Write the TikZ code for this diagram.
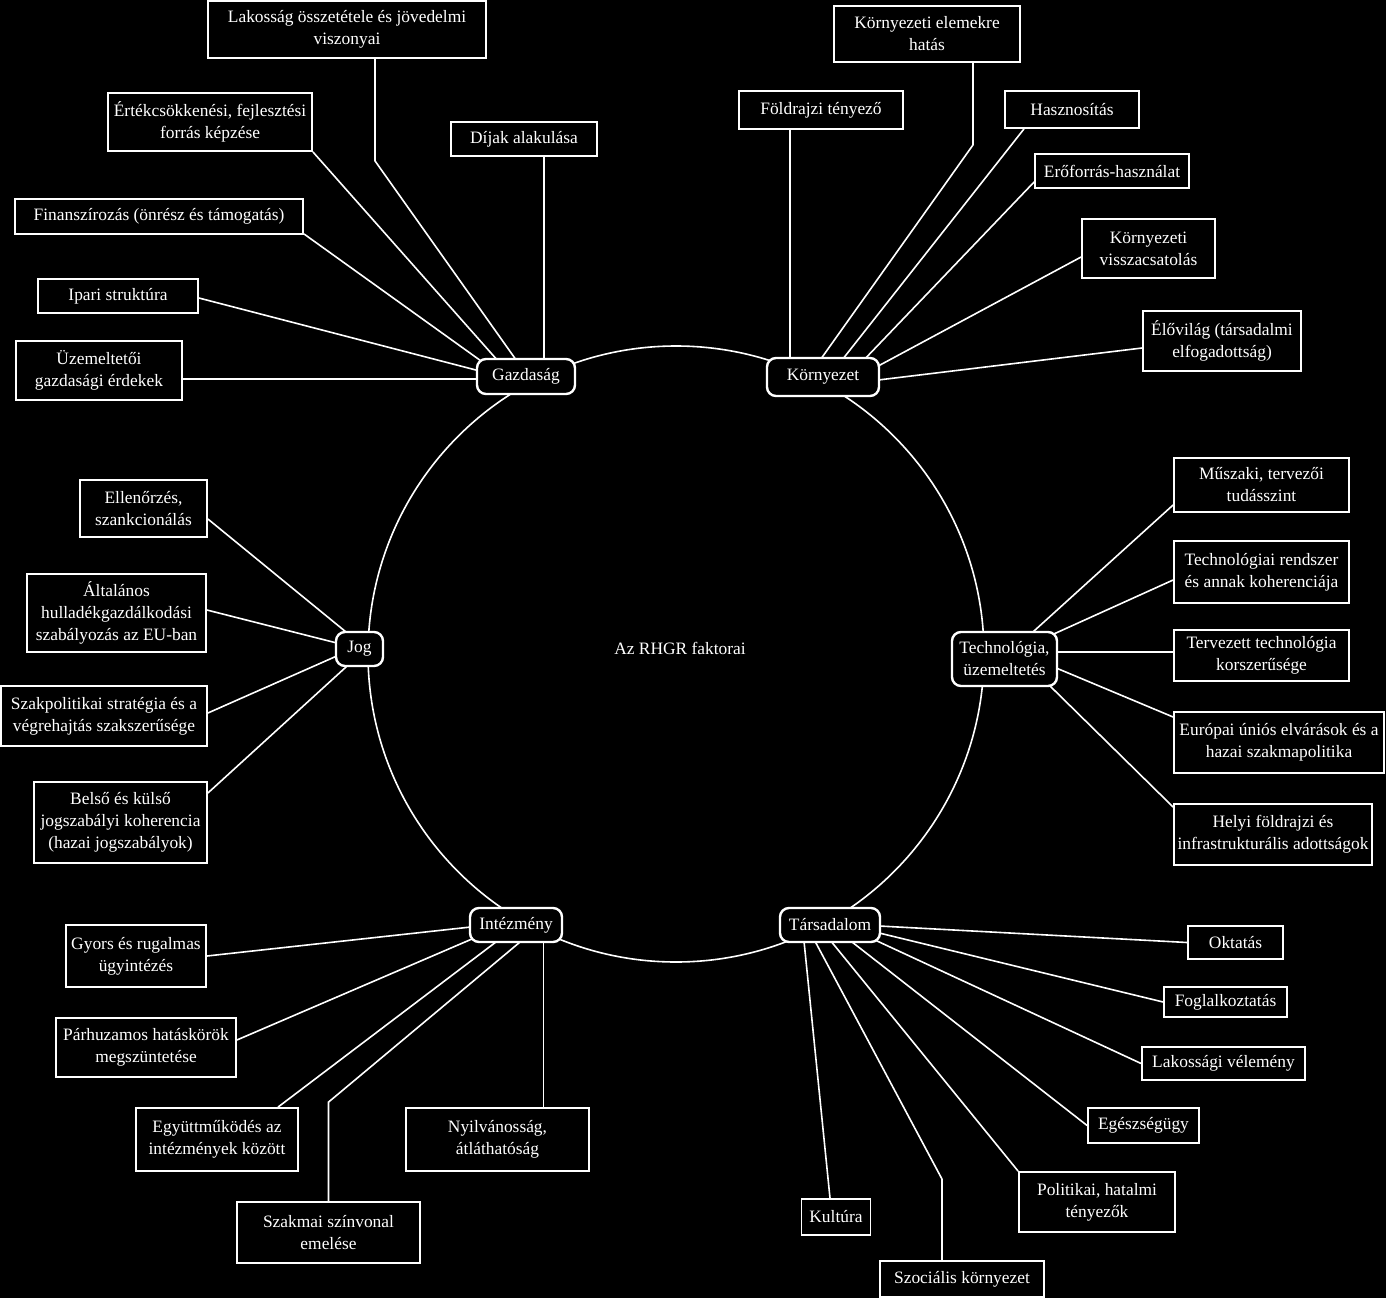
\documentclass[tikz,border=0pt]{standalone}
\usepackage{fontspec}
\setmainfont{Liberation Serif}
\pgfdeclarelayer{bg}
\pgfdeclarelayer{lines}
\pgfsetlayers{bg,lines,main}
\tikzset{
  leaf/.style={draw=white, line width=1.8pt, fill=black, text=white, align=center, inner sep=0pt, font=\fontsize{17.4}{22}\selectfont},
  hub/.style={leaf, rounded corners=9pt, line width=2.4pt},
  conn/.style={draw=white, line width=1.6pt},
}
\begin{document}
\begin{tikzpicture}[x=1pt,y=-1pt]
\begin{pgfonlayer}{bg}
\fill[black] (0,0) rectangle (1386,1298);
\end{pgfonlayer}
\useasboundingbox (0,0) rectangle (1386,1298);

% hubs
\node[hub, minimum width=98pt, minimum height=35pt] (gaz) at (526,376.5) {Gazdaság};
\node[hub, minimum width=112pt, minimum height=38pt] (kor) at (823,377) {Környezet};
\node[hub, minimum width=47pt, minimum height=34pt] (jog) at (359.5,649) {Jog};
\node[hub, minimum width=105pt, minimum height=54pt] (tech) at (1004.5,659) {Technológia,\\üzemeltetés};
\node[hub, minimum width=92pt, minimum height=34pt] (int) at (516,925) {Intézmény};
\node[hub, minimum width=100pt, minimum height=34pt] (tar) at (830,925) {Társadalom};
\node[text=white, font=\fontsize{17.4}{22}\selectfont] (ctr) at (680,648) {Az RHGR faktorai};

% Gazdaság leaves
\node[leaf, minimum width=278pt, minimum height=57pt] (lak) at (347,29.5) {Lakosság összetétele és jövedelmi\\viszonyai};
\node[leaf, minimum width=204pt, minimum height=58pt] (ert) at (210,122) {Értékcsökkenési, fejlesztési\\forrás képzése};
\node[leaf, minimum width=146pt, minimum height=34pt] (dij) at (524,139) {Díjak alakulása};
\node[leaf, minimum width=288pt, minimum height=35pt] (fin) at (159,216.5) {Finanszírozás (önrész és támogatás)};
\node[leaf, minimum width=160pt, minimum height=34pt] (ipa) at (118,296) {Ipari struktúra};
\node[leaf, minimum width=166pt, minimum height=59pt] (uze) at (99,370.5) {Üzemeltetői\\gazdasági érdekek};

% Környezet leaves
\node[leaf, minimum width=186pt, minimum height=56pt] (kee) at (927,34) {Környezeti elemekre\\hatás};
\node[leaf, minimum width=164pt, minimum height=38pt] (fol) at (821,110) {Földrajzi tényező};
\node[leaf, minimum width=134pt, minimum height=37pt] (has) at (1072,109.5) {Hasznosítás};
\node[leaf, minimum width=154pt, minimum height=34pt] (ero) at (1112,171) {Erőforrás-használat};
\node[leaf, minimum width=133pt, minimum height=59pt] (kvi) at (1148.5,248.5) {Környezeti\\visszacsatolás};
\node[leaf, minimum width=158pt, minimum height=60pt] (elo) at (1222,341) {Élővilág (társadalmi\\elfogadottság)};

% Jog leaves
\node[leaf, minimum width=127pt, minimum height=57pt] (ell) at (143.5,508.5) {Ellenőrzés,\\szankcionálás};
\node[leaf, minimum width=179pt, minimum height=78pt] (alt) at (116.5,613) {Általános\\hulladékgazdálkodási\\szabályozás az EU-ban};
\node[leaf, minimum width=206pt, minimum height=60pt] (szp) at (104,716) {Szakpolitikai stratégia és a\\végrehajtás szakszerűsége};
\node[leaf, minimum width=173pt, minimum height=81pt] (bel) at (120.5,822.5) {Belső és külső\\jogszabályi koherencia\\(hazai jogszabályok)};

% Technológia leaves
\node[leaf, minimum width=175pt, minimum height=54pt] (mus) at (1261.5,485) {Műszaki, tervezői\\tudásszint};
\node[leaf, minimum width=175pt, minimum height=62pt] (trs) at (1261.5,572) {Technológiai rendszer\\és annak koherenciája};
\node[leaf, minimum width=175pt, minimum height=51pt] (ter) at (1261.5,655.5) {Tervezett technológia\\korszerűsége};
\node[leaf, minimum width=210pt, minimum height=61pt] (eur) at (1279,742.5) {Európai úniós elvárások és a\\hazai szakmapolitika};
\node[leaf, minimum width=198pt, minimum height=61pt] (hel) at (1273,834.5) {Helyi földrajzi és\\infrastrukturális adottságok};

% Intézmény leaves
\node[leaf, minimum width=140pt, minimum height=62pt] (gyo) at (136,956) {Gyors és rugalmas\\ügyintézés};
\node[leaf, minimum width=180pt, minimum height=59pt] (par) at (146,1047.5) {Párhuzamos hatáskörök\\megszüntetése};
\node[leaf, minimum width=162pt, minimum height=63pt] (egy) at (217,1139.5) {Együttműködés az\\intézmények között};
\node[leaf, minimum width=183pt, minimum height=63pt] (nyi) at (497.5,1139.5) {Nyilvánosság,\\átláthatóság};
\node[leaf, minimum width=183pt, minimum height=61pt] (szm) at (328.5,1232.5) {Szakmai színvonal\\emelése};

% Társadalom leaves
\node[leaf, minimum width=95pt, minimum height=33pt] (okt) at (1235.5,942.5) {Oktatás};
\node[leaf, minimum width=123pt, minimum height=30pt] (fog) at (1225.5,1002) {Foglalkoztatás};
\node[leaf, minimum width=163pt, minimum height=33pt] (lkv) at (1223.5,1063.5) {Lakossági vélemény};
\node[leaf, minimum width=111pt, minimum height=35pt] (ege) at (1143.5,1125.5) {Egészségügy};
\node[leaf, minimum width=156pt, minimum height=60pt] (pol) at (1097,1202) {Politikai, hatalmi\\tényezők};
\node[leaf, minimum width=69pt, minimum height=36pt] (kul) at (836,1217) {Kultúra};
\node[leaf, minimum width=164pt, minimum height=36pt] (szo) at (962,1279) {Szociális környezet};

\begin{pgfonlayer}{lines}
\draw[conn] (676,654) circle[radius=308pt];
% Gazdaság
\draw[conn] ([xshift=28pt]lak.south) -- ++(0,102) -- ([xshift=-10pt,yshift=-2pt]gaz.north);
\draw[conn] (ert.south east) -- ([xshift=-29pt,yshift=-2pt]gaz.north);
\draw[conn] ([xshift=20pt]dij.south) -- ([xshift=20pt,yshift=-2pt]dij.south |- gaz.north);
\draw[conn] ([yshift=1pt]fin.south east) -- ([xshift=5pt,yshift=-3pt]gaz.north west);
\draw[conn] ([yshift=-2pt]ipa.east) -- ([xshift=2pt,yshift=6pt]gaz.west);
\draw[conn] ([yshift=-8.5pt]uze.east) -- ([xshift=2pt,yshift=-2.5pt]gaz.west);
% Környezet
\draw[conn] ([xshift=-31pt]fol.south) -- ([xshift=-31pt,yshift=-2pt]fol.south |- kor.north);
\draw[conn] ([xshift=46pt]kee.south) -- ++(0,82) -- ([xshift=-2pt,yshift=-2pt]kor.north);
\draw[conn] ([xshift=-48pt]has.south) -- ([xshift=20pt,yshift=-2pt]kor.north);
\draw[conn] ([yshift=-11pt]ero.west) -- ([xshift=42pt,yshift=-2pt]kor.north);
\draw[conn] ([yshift=-8.5pt]kvi.west) -- ([xshift=-2pt,yshift=11pt]kor.east);
\draw[conn] ([yshift=-7pt]elo.west) -- ([xshift=-2pt,yshift=-3pt]kor.east);
% Jog
\draw[conn] ([yshift=-10.5pt]ell.east) -- ([xshift=-12.5pt,yshift=-2pt]jog.north);
\draw[conn] ([yshift=3pt]alt.east) -- ([xshift=2pt,yshift=6pt]jog.west);
\draw[conn] ([yshift=3pt]szp.east) -- ([xshift=2pt,yshift=-7pt]jog.west);
\draw[conn] ([yshift=29.5pt]bel.east) -- ([xshift=-11.5pt,yshift=2pt]jog.south);
% Technológia
\draw[conn] ([yshift=-20pt]mus.west) -- ([xshift=27.5pt,yshift=-2pt]tech.north);
\draw[conn] ([yshift=-8pt]trs.west) -- ([xshift=-4pt,yshift=-3pt]tech.north east);
\draw[conn] ([yshift=3.5pt]ter.west) -- ([xshift=-2pt,yshift=7pt]tech.east);
\draw[conn] ([yshift=25.5pt]eur.west) -- ([xshift=-2pt,yshift=-9pt]tech.east);
\draw[conn] ([yshift=27.5pt]hel.west) -- ([xshift=-10pt,yshift=3pt]tech.south east);
% Intézmény
\draw[conn] (gyo.east) -- ([xshift=2pt,yshift=-2pt]int.west);
\draw[conn] ([yshift=7.5pt]par.east) -- ([xshift=5pt,yshift=5pt]int.south west);
\draw[conn] ([xshift=61pt]egy.north) -- ([xshift=-19pt,yshift=2pt]int.south);
\draw[conn] (szm.north) -- ++(0,-99) -- ([xshift=5pt,yshift=2pt]int.south);
\draw[conn] ([xshift=46pt]nyi.north) -- ([xshift=46pt,yshift=2pt]nyi.north |- int.south);
% Társadalom
\draw[conn] (okt.west) -- ([xshift=-2pt,yshift=-1pt]tar.east);
\draw[conn] (fog.west) -- ([xshift=-2pt,yshift=-8pt]tar.east);
\draw[conn] (lkv.west) -- ([xshift=-8pt,yshift=4pt]tar.south east);
\draw[conn] (ege.west) -- ([xshift=21pt,yshift=2pt]tar.south);
\draw[conn] (pol.north west) -- ([xshift=1pt,yshift=2pt]tar.south);
\draw[conn] ([xshift=-20pt]szo.north) -- ++(0,-81) -- ([xshift=-15pt,yshift=2pt]tar.south);
\draw[conn] ([xshift=-6pt]kul.north) -- ([xshift=-26pt,yshift=2pt]tar.south);
\end{pgfonlayer}
\end{tikzpicture}
\end{document}
